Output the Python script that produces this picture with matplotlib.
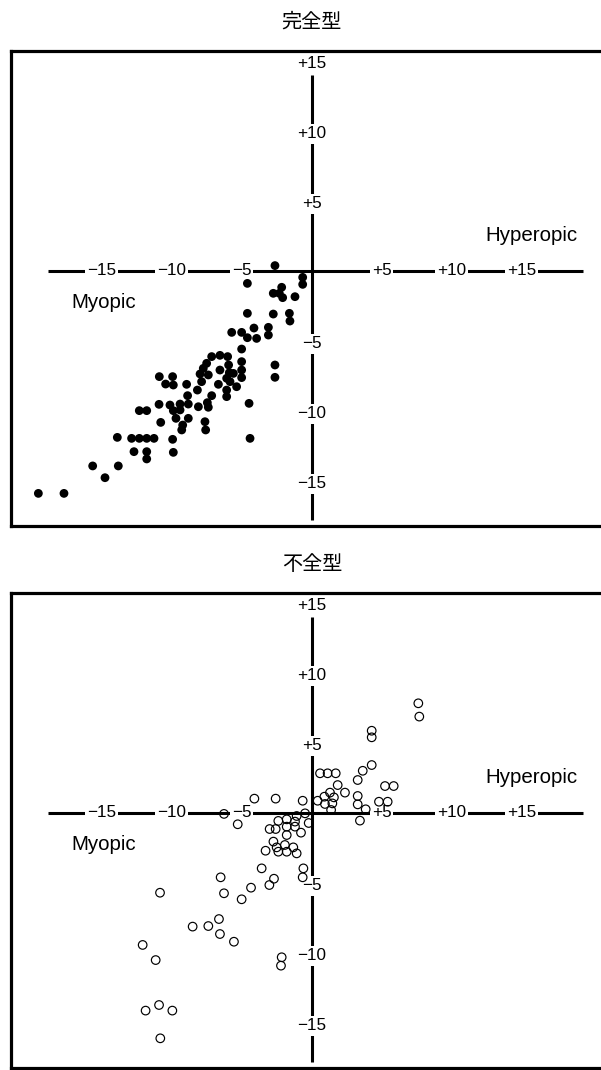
import matplotlib
matplotlib.use('Agg')
import matplotlib.pyplot as plt

plt.rcParams['font.family'] = ['Liberation Sans', 'DejaVu Sans']

# ---------------- data ----------------
complete_x = [-2.61, -0.63, -0.63, -4.58, -2.13, -2.73, -2.30, -2.06, -1.18, -4.58,
              -2.73, -1.58, -1.54, -5.70, -4.99, -4.58, -4.11, -3.92, -3.08, -3.08,
              -4.99, -7.13, -6.54, -5.99, -7.49, -7.73, -7.37, -7.96, -6.54, -5.92,
              -5.87, -5.58, -4.99, -4.99, -4.99, -6.06, -6.65, -5.82, -5.35, -6.06,
              -6.06, -2.61, -2.61, -7.85, -8.15, -7.13, -7.44, -7.37, -7.61, -7.56,
              -8.08, -8.92, -8.85, -9.39, -9.39, -8.80, -8.80, -9.27, -9.20, -10.11,
              -9.87, -9.68, -10.87, -10.42, -9.92, -9.87, -10.89, -10.77, -12.30, -11.77,
              -4.46, -4.39, -13.87, -12.85, -12.30, -11.77, -11.25, -12.68, -11.77, -11.77,
              -9.92, -9.87, -15.63, -13.80, -14.75, -19.51, -17.68]
complete_y = [0.35, -0.49, -0.99, -0.92, -1.20, -1.63, -1.63, -1.94, -1.87, -3.06,
              -3.11, -3.06, -3.61, -4.42, -4.42, -4.80, -4.11, -4.85, -4.06, -4.61,
              -5.61, -6.15, -6.06, -6.15, -6.63, -6.99, -7.46, -7.39, -7.11, -6.75,
              -7.30, -7.35, -6.51, -7.11, -7.65, -7.70, -8.13, -7.94, -8.30, -8.54,
              -9.01, -6.75, -7.63, -7.94, -8.54, -8.94, -9.44, -9.77, -10.80, -11.39,
              -9.73, -8.13, -8.94, -9.54, -9.96, -9.54, -10.56, -11.39, -11.04, -9.61,
              -10.01, -10.56, -7.58, -8.11, -7.58, -8.18, -9.56, -10.85, -10.01, -10.01,
              -9.49, -11.99, -11.92, -11.99, -11.99, -11.99, -11.99, -12.94, -12.94, -13.46,
              -12.06, -12.99, -13.96, -13.96, -14.80, -15.92, -15.92]

incomplete_x = [7.63, 7.70, 4.30, 4.30, 4.30, 3.66, 3.30, 5.25, 5.87, 1.87,
                2.39, 1.32, 0.92, 0.44, 1.60, 0.96, 1.49, 1.40, 3.30, 3.30,
                3.87, 4.82, 5.44, 3.46, 0.61, 1.15, 1.73, -4.08, -2.56, -0.63,
                -6.25, -5.27, -0.46, -0.20, -1.06, -1.77, -2.37, -1.18, -2.99, -2.56,
                -1.77, -1.18, -0.75, -1.77, -2.72, -2.49, -1.90, -1.30, -3.28, -2.37,
                -1.77, -1.06, -3.56, -0.58, -0.63, -2.68, -3.01, -6.49, -6.25, -4.32,
                -4.99, -10.82, -8.49, -7.37, -6.61, -6.54, -5.54, -12.06, -11.13, -2.13,
                -2.18, -11.85, -10.89, -9.94, -10.80]
incomplete_y = [7.80, 6.85, 5.84, 5.37, 3.39, 2.98, 2.32, 1.89, 1.89, 1.96,
                1.42, 1.42, 1.13, 0.84, 1.08, 0.61, 0.65, 0.18, 1.18, 0.58,
                0.23, 0.77, 0.77, -0.58, 2.80, 2.80, 2.80, 0.99, 0.99, 0.84,
                -0.10, -0.84, -0.06, -0.75, -0.25, -0.49, -0.60, -0.65, -1.18, -1.18,
                -1.01, -1.01, -1.44, -1.61, -2.08, -2.49, -2.32, -2.49, -2.73, -2.80,
                -2.80, -2.92, -3.99, -3.99, -4.63, -4.73, -5.18, -4.63, -5.77, -5.37,
                -6.20, -5.73, -8.15, -8.11, -7.61, -8.68, -9.23, -9.46, -10.54, -10.34,
                -10.94, -14.15, -13.75, -14.15, -16.13]

tick_values = [-15, -10, -5, 5, 10, 15]
tick_labels = ['\u221215', '\u221210', '\u22125', '+5', '+10', '+15']
panel_titles = ['完全型', '不全型']
region_labels = ['Myopic', 'Hyperopic']

# ---------------- layout ----------------
W, H, DPI = 601, 1070, 100
UNIT = 14.0          # pixels per diopter
fig = plt.figure(figsize=(W / DPI, H / DPI), dpi=DPI)


def add_panel(box_top, xs, ys, filled, title):
    left, right = 11.0, 620.0
    bottom = box_top + 475.5
    ox, oy = 311.5, box_top + 220.0
    ax = fig.add_axes([left / W, 1 - bottom / H, (right - left) / W, (bottom - box_top) / H])
    ax.set_xlim((left - ox) / UNIT, (right - ox) / UNIT)
    ax.set_ylim((oy - bottom) / UNIT, (oy - box_top) / UNIT)
    ax.set_xticks([])
    ax.set_yticks([])
    for s in ['left', 'top', 'bottom']:
        ax.spines[s].set_linewidth(2.3)
    ax.spines['right'].set_visible(False)

    # axes cross
    ax.plot([-18.8, 19.4], [0, 0], color='black', lw=2.2, solid_capstyle='butt', zorder=2)
    ax.plot([0, 0], [14.0, -17.8], color='black', lw=2.2, solid_capstyle='butt', zorder=2)
    box = dict(boxstyle='square,pad=0.12', fc='white', ec='none')
    for v, lab in zip(tick_values, tick_labels):
        ax.text(v, 0, lab, ha='center', va='center', fontsize=12.3, bbox=box, zorder=3)
        ax.text(0, v - 0.25, lab, ha='center', va='center', fontsize=12.3, bbox=box, zorder=3)

    if filled:
        ax.scatter(xs, ys, s=40, c='black', edgecolors='none', zorder=4)
    else:
        ax.scatter(xs, ys, s=38, facecolors='none', edgecolors='black', linewidths=0.85, zorder=4)

    ax.text(-17.13, -2.7, region_labels[0], fontsize=14.8, ha='left', va='baseline')
    ax.text(12.39, 2.13, region_labels[1], fontsize=14.8, ha='left', va='baseline')

    fig.text(312 / W, 1 - (box_top - 28) / H, title, fontsize=14.5,
             family=['Noto Sans CJK JP', 'DejaVu Sans'], ha='center', va='center')
    return ax


add_panel(50.5, complete_x, complete_y, True, panel_titles[0])
add_panel(592.5, incomplete_x, incomplete_y, False, panel_titles[1])

fig.savefig('out.png', dpi=DPI)
